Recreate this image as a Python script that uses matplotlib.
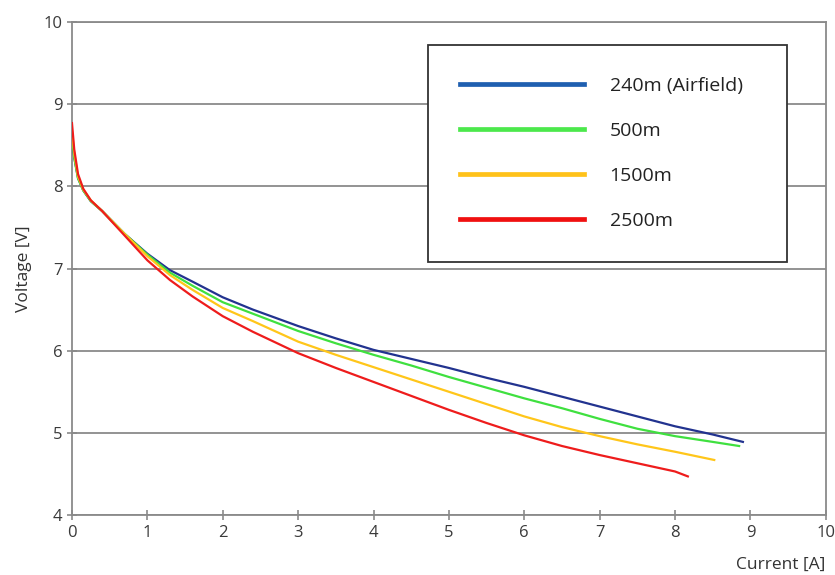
import numpy as np
import matplotlib
matplotlib.use("Agg")
import matplotlib.pyplot as plt
from matplotlib.lines import Line2D

# readings (current in A, voltage in V)
x_240 = [0, 0.03, 0.08, 0.15, 0.25, 0.4, 0.7, 1.0, 1.3, 1.6, 2.0, 2.4, 3.0, 3.5,
         4.0, 4.5, 5.0, 5.5, 6.0, 6.5, 7.0, 7.5, 8.0, 8.5, 8.9]
v_240 = [8.62, 8.35, 8.1, 7.95, 7.82, 7.7, 7.42, 7.18, 6.98, 6.84, 6.65, 6.5, 6.3, 6.15,
         6.01, 5.9, 5.79, 5.67, 5.56, 5.44, 5.32, 5.2, 5.08, 4.98, 4.89]

x_500 = [0, 0.03, 0.08, 0.15, 0.25, 0.4, 0.7, 1.0, 1.3, 1.6, 2.0, 2.4, 3.0, 3.5,
         4.0, 4.5, 5.0, 5.5, 6.0, 6.5, 7.0, 7.5, 8.0, 8.5, 8.85]
v_500 = [8.6, 8.35, 8.1, 7.95, 7.82, 7.7, 7.42, 7.17, 6.95, 6.79, 6.59, 6.45, 6.24, 6.09,
         5.95, 5.82, 5.68, 5.55, 5.42, 5.3, 5.17, 5.05, 4.96, 4.89, 4.84]

x_1500 = [0, 0.03, 0.08, 0.15, 0.25, 0.4, 0.7, 1.0, 1.3, 1.6, 2.0, 2.4, 3.0, 3.5,
          4.0, 4.5, 5.0, 5.5, 6.0, 6.5, 7.0, 7.5, 8.0, 8.52]
v_1500 = [8.68, 8.4, 8.12, 7.96, 7.83, 7.7, 7.42, 7.15, 6.92, 6.74, 6.52, 6.36, 6.11, 5.95,
          5.8, 5.65, 5.5, 5.35, 5.2, 5.07, 4.96, 4.86, 4.77, 4.67]

x_2500 = [0, 0.03, 0.08, 0.15, 0.25, 0.4, 0.7, 1.0, 1.3, 1.6, 2.0, 2.4, 3.0, 3.5,
          4.0, 4.5, 5.0, 5.5, 6.0, 6.5, 7.0, 7.5, 8.0, 8.17]
v_2500 = [8.77, 8.45, 8.15, 7.97, 7.83, 7.7, 7.4, 7.1, 6.86, 6.66, 6.42, 6.23, 5.97, 5.79,
          5.62, 5.45, 5.28, 5.12, 4.97, 4.84, 4.73, 4.63, 4.53, 4.47]

labels = ["240m (Airfield)", "500m", "1500m", "2500m"]
line_colors = ["#22338f", "#3fe03f", "#ffc61a", "#ee1c1c"]
legend_colors = ["#1f5fb0", "#4ce84c", "#ffc21a", "#f01010"]

plt.rcParams["font.family"] = ["Open Sans", "DejaVu Sans"]

fig = plt.figure(figsize=(8.35, 5.75), dpi=100)
ax = fig.add_axes([0.0862, 0.1043, 0.9028, 0.8574])

for xs, vs, c in zip([x_240, x_500, x_1500, x_2500],
                     [v_240, v_500, v_1500, v_2500], line_colors):
    ax.plot(xs, vs, color=c, lw=1.6, zorder=3, solid_joinstyle="round")

ax.set_xlim(0, 10)
ax.set_ylim(4, 10)
ax.set_xticks(np.arange(0, 11, 1))
ax.set_yticks(np.arange(4, 11, 1))
ax.yaxis.grid(True, color="#8a8a8a", lw=1.3)
ax.set_axisbelow(True)
for s in ax.spines.values():
    s.set_color("#8a8a8a")
    s.set_linewidth(1.3)
ax.tick_params(colors="#8a8a8a", labelcolor="#3a3a3a", labelsize=12,
               direction="inout", length=7, width=1.2)

ax.set_ylabel("Voltage [V]", fontsize=12.5, color="#333333", labelpad=8)
ax.set_xlabel("Current [A]", fontsize=12.5, color="#333333", labelpad=1)
ax.xaxis.set_label_coords(1.0, -0.085)
ax.xaxis.label.set_horizontalalignment("right")

handles = [Line2D([0], [0], color=c, lw=3.4) for c in legend_colors]
leg = ax.legend(handles, labels, loc="upper left",
                bbox_to_anchor=(0.472, 0.953, 0.476, 0.0), mode="expand",
                fontsize=14, handlelength=6.4, handletextpad=1.3,
                borderpad=1.65, labelspacing=1.38, fancybox=False,
                edgecolor="#333333", framealpha=1, borderaxespad=0)
leg.get_frame().set_linewidth(1.3)
for t in leg.get_texts():
    t.set_color("#222222")

fig.savefig("out.png", dpi=100)
